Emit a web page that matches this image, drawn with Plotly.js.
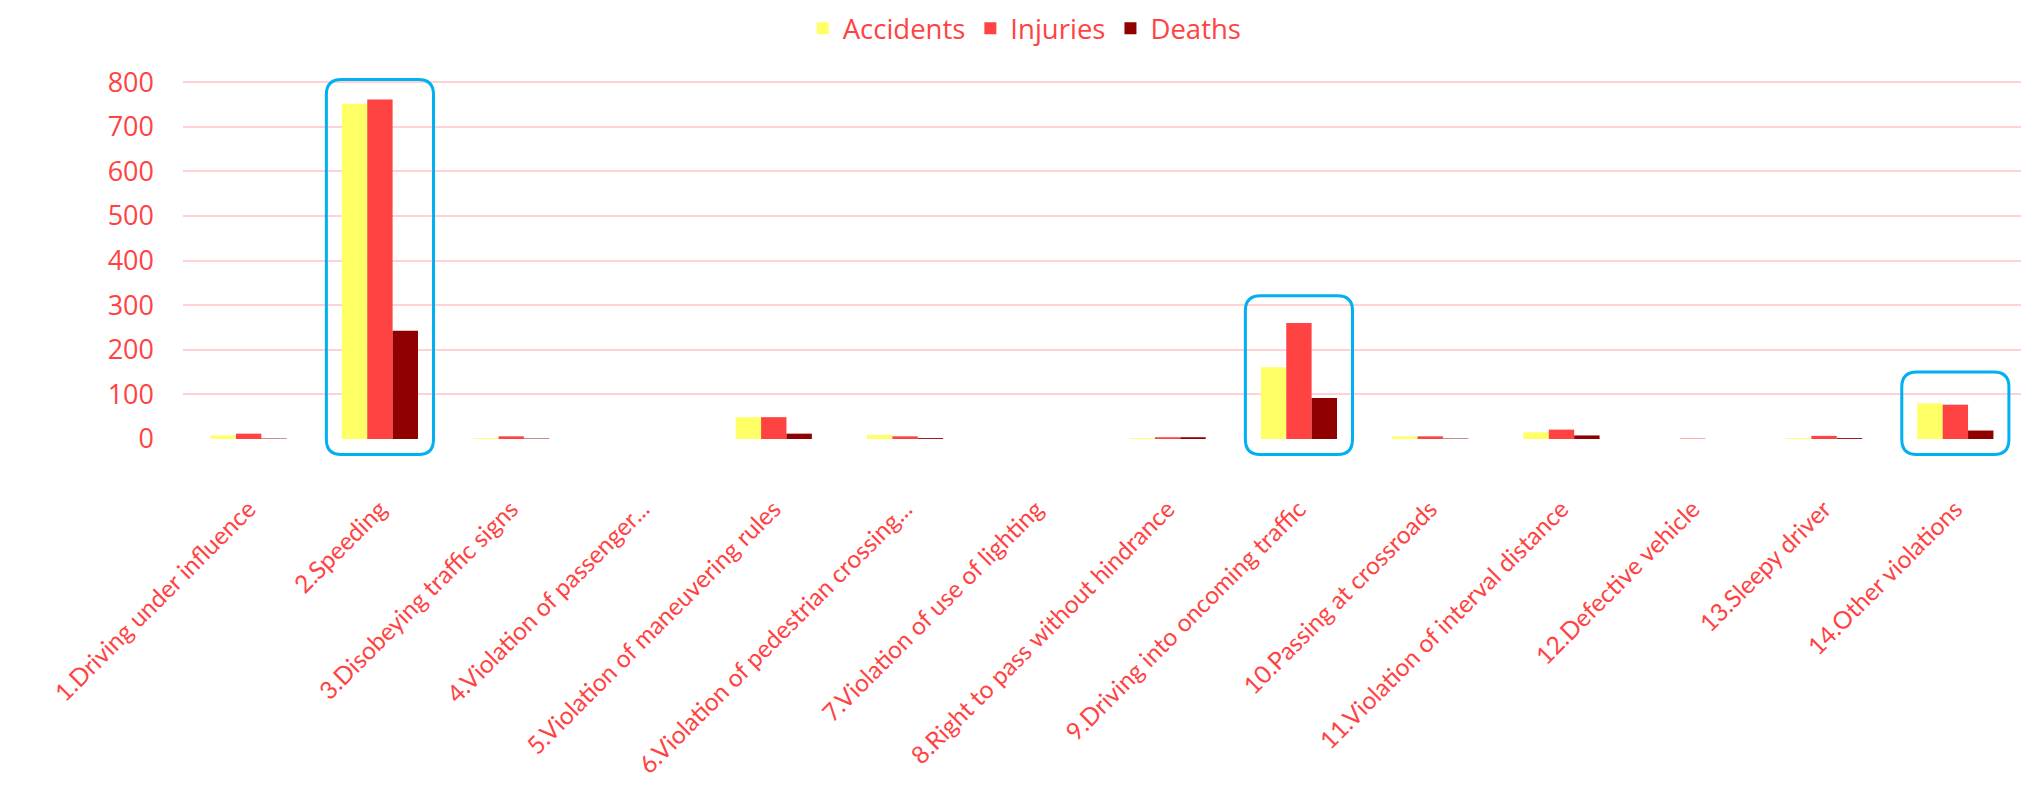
<!DOCTYPE html>
<html>
<head>
<meta charset="utf-8">
<script src="https://cdn.plot.ly/plotly-3.0.1.min.js"></script>
<style>
html,body{margin:0;padding:0;background:#fff;}
#chart{width:2021px;height:786px;}
</style>
</head>
<body>
<div id="chart"></div>
<script>
var categories = [
  "1.Driving under influence",
  "2.Speeding",
  "3.Disobeying traffic signs",
  "4.Violation of passenger...",
  "5.Violation of maneuvering rules",
  "6.Violation of pedestrian crossing...",
  "7.Violation of use of lighting",
  "8.Right to pass without hindrance",
  "9.Driving into oncoming traffic",
  "10.Passing at crossroads",
  "11.Violation of interval distance",
  "12.Defective vehicle",
  "13.Sleepy driver",
  "14.Other violations"
];
var accidents = [8, 752, 2, 0, 49, 9, 0, 2, 161, 6, 15, 0, 2, 80];
var injuries  = [12, 761, 6, 0, 49, 6, 0, 4, 260, 6, 21, 1, 7, 77];
var deaths    = [1, 243, 1, 0, 12, 2, 0, 4, 92, 1, 8, 0, 2, 19];
var seriesNames = ["Accidents", "Injuries", "Deaths"];
var yTicks = [0, 100, 200, 300, 400, 500, 600, 700, 800];

// highlighted categories (index) and the top of their highlight box (data units)
var highlightIdx = [1, 8, 13];
var highlightTop = [806, 321, 150];
var highlightBottom = -35;

var colors = ["#FFFF66", "#FF4343", "#900000"];
var textColor = "#FF4343";
var font = "Open Sans, Liberation Sans, sans-serif";
var labelFont = "Lato, Open Sans, sans-serif";

var W = 2021, H = 786;
var yMax = 805;
var margin = {l: 183, r: 0, t: 80, b: 347};
var nCat = categories.length;

var traces = [accidents, injuries, deaths].map(function (vals, k) {
  return {
    type: "bar",
    name: seriesNames[k],
    x: categories,
    y: vals,
    marker: {color: colors[k], line: {width: 0}},
    hoverinfo: "x+y+name"
  };
});

function roundRect(x0, y0, x1, y1, rx, ry) {
  return "M" + (x0 + rx) + "," + y1 +
    " L" + (x1 - rx) + "," + y1 +
    " Q" + x1 + "," + y1 + " " + x1 + "," + (y1 - ry) +
    " L" + x1 + "," + (y0 + ry) +
    " Q" + x1 + "," + y0 + " " + (x1 - rx) + "," + y0 +
    " L" + (x0 + rx) + "," + y0 +
    " Q" + x0 + "," + y0 + " " + x0 + "," + (y0 + ry) +
    " L" + x0 + "," + (y1 - ry) +
    " Q" + x0 + "," + y1 + " " + (x0 + rx) + "," + y1 + " Z";
}

var plotW = W - margin.l - margin.r;
var plotH = H - margin.t - margin.b;
var radiusPx = 15;
var halfW = 0.408;
var shapes = highlightIdx.map(function (idx, j) {
  var x0 = (idx + 0.5 - halfW) / nCat;
  var x1 = (idx + 0.5 + halfW) / nCat;
  var y0 = highlightBottom / yMax;
  var y1 = highlightTop[j] / yMax;
  return {
    type: "path",
    xref: "paper",
    yref: "paper",
    path: roundRect(x0, y0, x1, y1, radiusPx / plotW, radiusPx / plotH),
    line: {color: "#00B0F0", width: 3},
    fillcolor: "rgba(0,0,0,0)",
    layer: "above"
  };
});

var layout = {
  width: W,
  height: H,
  margin: margin,
  paper_bgcolor: "#ffffff",
  plot_bgcolor: "#ffffff",
  font: {family: font, color: textColor, size: 27},
  barmode: "group",
  bargap: 0.42,
  bargroupgap: 0,
  showlegend: true,
  legend: {
    orientation: "h",
    xref: "container",
    yref: "container",
    x: 0.507,
    xanchor: "center",
    y: 0.995,
    yanchor: "top",
    font: {family: font, size: 27.5, color: textColor},
    traceorder: "normal",
    itemwidth: 30
  },
  xaxis: {
    type: "category",
    tickangle: -45,
    tickfont: {family: labelFont, size: 24.5, color: textColor},
    showgrid: false,
    showline: false,
    zeroline: false,
    ticks: "",
    ticklabelstandoff: 50,
    ticklabelshift: 0,
    automargin: false,
    fixedrange: true
  },
  yaxis: {
    range: [0, yMax],
    tickvals: yTicks,
    ticktext: yTicks.map(String),
    tickfont: {family: font, size: 27, color: textColor},
    showgrid: true,
    gridcolor: "#FFD3D3",
    gridwidth: 2,
    zeroline: false,
    showline: false,
    ticks: "",
    ticklabelstandoff: 28,
    automargin: false,
    fixedrange: true
  },
  shapes: shapes
};

Plotly.newPlot("chart", traces, layout, {displayModeBar: false, staticPlot: true});
</script>
</body>
</html>
